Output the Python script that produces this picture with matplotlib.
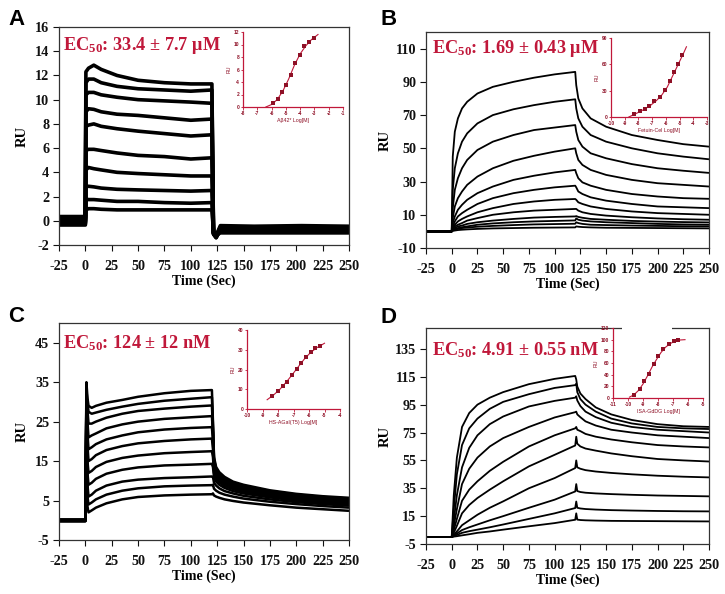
import matplotlib
matplotlib.use('Agg')
import matplotlib.pyplot as plt
from matplotlib.patches import Rectangle

plt.rcParams['font.family'] = ['Liberation Serif', 'DejaVu Serif']
plt.rcParams['font.weight'] = 'bold'
plt.rcParams['mathtext.fontset'] = 'custom'
plt.rcParams['mathtext.rm'] = 'Liberation Serif:bold'
plt.rcParams['mathtext.default'] = 'rm'
plt.rcParams['axes.unicode_minus'] = False

RED = '#C0183A'
DARKRED = '#8E1026'

# ---------------- Panel A (noisy sensorgrams) ----------------
A_BASE = [0.35, 0.28, 0.2, 0.12, 0.04, -0.04, -0.12, -0.2, -0.28, -0.35]
A_T_ASSOC = [0.5, 3, 8, 15, 30, 50, 75, 100, 120]
A_ASSOC = [
    [12.3, 12.6, 12.85, 12.5, 12.0, 11.6, 11.4, 11.3, 11.3],
    [11.4, 11.7, 11.7, 11.4, 11.1, 10.9, 10.8, 10.7, 10.8],
    [10.4, 10.6, 10.6, 10.4, 10.2, 10.0, 9.9, 9.8, 9.7],
    [9.0, 9.25, 9.2, 9.0, 8.8, 8.7, 8.5, 8.3, 8.4],
    [7.8, 7.9, 8.0, 7.8, 7.6, 7.4, 7.2, 7.0, 7.1],
    [5.8, 5.9, 5.9, 5.8, 5.6, 5.4, 5.3, 5.1, 5.2],
    [4.2, 4.4, 4.3, 4.2, 4.0, 3.9, 3.8, 3.7, 3.7],
    [2.8, 2.85, 2.8, 2.7, 2.6, 2.55, 2.5, 2.45, 2.5],
    [1.8, 1.75, 1.75, 1.7, 1.6, 1.6, 1.5, 1.45, 1.5],
    [0.9, 1.0, 1.0, 0.95, 0.9, 0.9, 0.9, 0.9, 0.9],
]
A_T_DISS = [121.5, 124, 128, 160, 205, 250]
A_DISS = [
    [-0.9, -1.2, -0.4, -0.45, -0.4, -0.45],
    [-1.0, -1.3, -0.5, -0.55, -0.5, -0.5],
    [-1.0, -1.3, -0.6, -0.6, -0.6, -0.6],
    [-1.1, -1.35, -0.65, -0.65, -0.65, -0.65],
    [-1.1, -1.4, -0.7, -0.7, -0.7, -0.7],
    [-1.1, -1.4, -0.75, -0.75, -0.75, -0.75],
    [-1.0, -1.3, -0.8, -0.8, -0.8, -0.8],
    [-1.0, -1.3, -0.85, -0.85, -0.85, -0.85],
    [-1.0, -1.2, -0.9, -0.9, -0.9, -0.9],
    [-0.9, -1.2, -1.0, -1.0, -1.0, -1.0],
]

# ---------------- Panel B ----------------
B_BASE = [0.0] * 12
B_T_ASSOC = [1, 3, 6, 10, 15, 25, 40, 60, 80, 100, 120]
B_ASSOC = [
    [45, 60, 68, 74, 78, 83, 87, 90, 92.5, 94.5, 96],
    [25, 38, 47, 54, 59, 65, 70, 73.5, 76, 78, 79.5],
    [14, 25, 32, 38, 43, 49, 54, 58, 61, 62.5, 64],
    [8, 15, 20, 24, 28, 33, 38, 42.5, 45.5, 48, 50],
    [5, 9, 13, 16, 19, 23, 27, 31, 33.5, 35.5, 37],
    [3, 6, 9, 11, 13, 16.5, 20, 23, 25, 26.5, 27.5],
    [2, 4, 6, 7.5, 9, 11.5, 14, 16.5, 18, 19, 19.5],
    [1.5, 3, 4, 5, 6.5, 8, 10, 11.5, 12.5, 13, 13.5],
    [1, 2, 3, 3.5, 4.5, 5.5, 6.5, 7.5, 8.3, 8.7, 9],
    [1, 1.5, 2, 2.5, 3, 4, 4.8, 5.5, 6, 6.3, 6.6],
    [0.5, 1, 1.5, 2, 2.3, 2.8, 3.3, 3.8, 4.2, 4.4, 4.6],
    [0.3, 0.5, 0.8, 1, 1.2, 1.5, 1.8, 2, 2.2, 2.3, 2.4],
]
B_T_DISS = [121, 123, 127, 135, 150, 175, 200, 225, 250]
B_DISS = [
    [88, 80, 74, 68, 63, 58, 55, 52.5, 51],
    [74, 68, 63, 58, 54, 50, 47, 45, 43.4],
    [60, 55, 51, 47, 44, 40.5, 38, 36.5, 35.2],
    [47, 43, 40, 37, 34, 31, 29, 28, 27],
    [35, 32, 29.5, 27.5, 25, 22.5, 21, 20, 19.6],
    [26.5, 24, 22.5, 20.5, 18.5, 16.5, 15, 14.5, 14],
    [19, 17.5, 16.5, 15, 13.5, 12, 11, 10.5, 10],
    [13.5, 12.5, 11.5, 10.5, 9.5, 8.5, 7.8, 7.3, 7],
    [9.2, 8.7, 8.2, 7.5, 7, 6.3, 5.9, 5.6, 5.4],
    [7.8, 7, 6.5, 6, 5.5, 5, 4.5, 4.2, 4],
    [5.5, 5, 4.5, 4, 3.8, 3.5, 3.3, 3.1, 3],
    [3, 2.8, 2.6, 2.4, 2.2, 2.1, 2, 1.9, 1.8],
]

# ---------------- Panel C ----------------
C_BASE = [0.2, 0.15, 0.1, 0.05, 0.0, -0.05, -0.1, -0.15, -0.2, -0.2, -0.25]
C_T_ASSOC = [1, 2, 3, 6, 10, 20, 35, 50, 75, 100, 120]
C_ASSOC = [
    [35, 31, 29, 28.5, 29, 29.8, 30.5, 31.3, 32.2, 32.8, 33],
    [33, 30, 27.5, 27, 27.3, 28, 28.8, 29.5, 30.3, 30.8, 31.2],
    [32, 28, 24.5, 24.5, 25, 26, 27, 27.7, 28.3, 28.8, 29.1],
    [31, 25, 21, 21.5, 22, 23.3, 24.3, 25, 25.7, 26.1, 26.4],
    [30, 22, 18, 18.5, 19.3, 20.5, 21.5, 22.3, 23, 23.4, 23.6],
    [28, 19, 15, 15.5, 16.5, 17.8, 18.8, 19.5, 20.1, 20.5, 20.7],
    [26, 15, 12, 12.5, 13.5, 14.8, 15.8, 16.4, 17, 17.3, 17.5],
    [24, 12, 9, 9.5, 10.5, 11.8, 12.8, 13.4, 13.9, 14.1, 14.3],
    [22, 9, 6, 6.5, 7.5, 8.8, 9.8, 10.3, 10.7, 10.9, 11.1],
    [20, 6, 4, 4.5, 5.3, 6.5, 7.5, 8.1, 8.6, 8.8, 8.9],
    [18, 3.5, 2, 2.5, 3.2, 4.3, 5.3, 5.9, 6.3, 6.5, 6.6],
]
C_T_DISS = [121, 122, 124, 127, 132, 140, 150, 175, 200, 225, 250]
C_DISS = [
    [25, 16, 13.5, 12.2, 11, 9.8, 9, 7.6, 6.7, 6.1, 5.7],
    [24, 15.5, 13, 11.8, 10.6, 9.5, 8.7, 7.4, 6.5, 5.9, 5.5],
    [23, 15, 12.6, 11.4, 10.3, 9.2, 8.4, 7.2, 6.3, 5.7, 5.3],
    [22, 14.5, 12.2, 11, 10, 9, 8.2, 7, 6.1, 5.5, 5.1],
    [20, 14, 11.8, 10.6, 9.6, 8.7, 7.9, 6.8, 5.9, 5.3, 4.9],
    [18, 13, 11.2, 10.1, 9.2, 8.3, 7.6, 6.5, 5.7, 5.1, 4.7],
    [16, 12, 10.5, 9.6, 8.7, 7.9, 7.2, 6.2, 5.4, 4.8, 4.4],
    [13.5, 11, 9.8, 9, 8.2, 7.4, 6.8, 5.8, 5.0, 4.5, 4.1],
    [11, 9.5, 8.8, 8.1, 7.4, 6.8, 6.2, 5.3, 4.6, 4.1, 3.7],
    [9, 8, 7.5, 7, 6.5, 6, 5.5, 4.7, 4.1, 3.6, 3.2],
    [6.8, 6.3, 6, 5.7, 5.3, 4.9, 4.5, 3.8, 3.2, 2.8, 2.4],
]

# ---------------- Panel D ----------------
D_BASE = [0.0] * 10
D_T_ASSOC = [2, 5, 10, 17, 25, 37, 50, 75, 100, 120]
D_ASSOC = [
    [30, 57, 79, 89, 95, 100, 104, 109.7, 113.5, 115.6],
    [20, 45, 66, 78, 85, 92, 97, 102.5, 107, 109],
    [12, 30, 50, 64, 73, 81, 86.5, 93.7, 97.7, 100],
    [8, 20, 38, 49, 57, 65, 71, 79, 85.8, 89.6],
    [5, 13, 26, 34, 40, 47.5, 54, 65, 73, 78],
    [3, 8, 17, 23, 28, 34, 40, 50.7, 59, 65.7],
    [1.5, 4, 8.5, 12, 16, 21, 25.6, 35, 42.3, 49.5],
    [1, 2.5, 5, 7, 9, 12, 15, 21, 26.8, 32.7],
    [0.6, 1.5, 3, 4.2, 5.3, 7, 9, 13, 17, 20.8],
    [0.3, 0.6, 1.2, 2, 3, 4, 5.3, 7.7, 10, 12.4],
]
D_T_DISS = [121, 122, 125, 130, 140, 155, 175, 200, 225, 250]
D_DISS = [
    [113, 108, 103, 99, 93, 88, 84, 81, 79.5, 79],
    [110, 104, 99, 95, 90, 85, 81.5, 79, 78, 77.5],
    [101, 98, 94, 90, 86, 82, 79, 77, 76, 75],
    [90, 88, 86, 83, 80, 77, 75, 73, 72, 71],
    [79, 77, 76, 74, 72, 70, 68, 66, 65, 64.3],
    [72, 67, 65, 63.5, 62, 60, 58, 56, 55, 54.2],
    [55, 50, 49, 48, 47, 46, 45, 44, 43.3, 42.8],
    [38, 33, 32.3, 31.8, 31.3, 30.8, 30.3, 29.8, 29.5, 29.2],
    [25.5, 21, 20.5, 20.1, 19.7, 19.3, 19, 18.7, 18.5, 18.4],
    [17, 12.5, 12.2, 12, 11.8, 11.6, 11.5, 11.4, 11.3, 11.2],
]

# ---------------- Insets (dose response) ----------------
IA_X = [-5.9, -5.55, -5.25, -4.97, -4.67, -4.34, -4.0, -3.73, -3.38, -3.06]
IA_Y = [0.7, 1.3, 2.4, 3.6, 5.1, 7.1, 8.3, 9.7, 10.4, 11.1]
IA_FX = [-6.4, -6.0, -5.6, -5.2, -4.8, -4.4, -4.0, -3.6, -3.2, -2.75]
IA_FY = [0.0, 0.4, 1.2, 2.6, 4.5, 6.7, 8.5, 9.8, 10.8, 11.6]

IB_X = [-8.32, -7.9, -7.55, -7.2, -6.83, -6.4, -6.07, -5.68, -5.4, -5.08, -4.8]
IB_Y = [3.8, 6.9, 9.6, 13, 18, 23, 30.6, 41, 51.7, 60.5, 71]
IB_FX = [-8.7, -8.3, -7.9, -7.5, -7.1, -6.7, -6.3, -5.9, -5.5, -5.1, -4.7, -4.5]
IB_FY = [0, 3, 6, 9.5, 13.5, 18.5, 25, 34, 47, 60, 73, 80]

IC_X = [-8.4, -7.97, -7.7, -7.43, -7.1, -6.8, -6.5, -6.2, -5.9, -5.6, -5.3]
IC_Y = [6.4, 8.9, 11.4, 13.9, 17.3, 20.3, 23.2, 26.5, 29, 30.8, 32]
IC_FX = [-8.7, -8.3, -7.9, -7.5, -7.1, -6.7, -6.3, -5.9, -5.5, -5.0]
IC_FY = [4.7, 7, 9.8, 13.3, 17.2, 21.3, 25.3, 28.6, 31.0, 33.3]

ID_X = [-9.63, -9.19, -8.92, -8.63, -8.3, -7.97, -7.64, -7.26, -6.93, -6.65]
ID_Y = [5.7, 16, 28.6, 41.7, 58.9, 71.4, 84, 92.6, 97, 98.9]
ID_FX = [-9.9, -9.6, -9.3, -9.0, -8.7, -8.4, -8.1, -7.8, -7.5, -7.2, -6.9, -6.5, -6.2]
ID_FY = [1.5, 5.5, 13, 24, 38, 53, 66, 78, 87, 93, 97, 99.5, 100]

X_TICKS = list(range(-25, 251, 25))

fig = plt.figure(figsize=(7.25, 5.94), dpi=100)
W, H = 725.0, 594.0


def px_rect(l, t, r, b):
    return [l / W, 1 - b / H, (r - l) / W, (b - t) / H]


def sensor(ax, base, t_assoc, assoc, t_diss, diss, lw):
    for b, a, d in zip(base, assoc, diss):
        t = [-25, 0] + t_assoc + t_diss
        y = [b, b] + a + d
        ax.plot(t, y, color='black', lw=lw, solid_joinstyle='round', solid_capstyle='butt')


def style_main(ax, ylim, yticks, ec, ec_pos, rux):
    ax.set_xlim(-25, 250)
    ax.set_xticks(X_TICKS)
    ax.set_ylim(*ylim)
    ax.set_yticks(yticks)
    ax.tick_params(direction='out', length=4, width=0.8, labelsize=10.2, colors='#111111')
    ax.tick_params(axis='x', pad=7)
    ax.tick_params(axis='y', pad=3)
    for s in ax.spines.values():
        s.set_linewidth(0.9)
        s.set_color('#333333')
    ax.set_xlabel('Time (Sec)', fontsize=10, fontweight='bold')
    ax.xaxis.set_label_coords(0.5, -0.135)
    ax.set_ylabel('RU', fontsize=10.5, fontweight='bold')
    ax.yaxis.set_label_coords(rux, 0.5)
    ax.yaxis.label.set_va('center')
    ax.text(ec_pos[0], ec_pos[1], ec, transform=ax.transAxes, color=RED,
            fontsize=13.2, fontweight='bold', va='baseline', ha='left')


def inset(rect, xs, ys, fx, fy, xlim, xticks, ylim, yticks, xlabel):
    ax = fig.add_axes(rect)
    ax.patch.set_alpha(0)
    ax.plot(fx, fy, color=RED, lw=0.8)
    ax.plot(xs, ys, 's', color=DARKRED, ms=2.2, mew=0)
    ax.set_xlim(*xlim)
    ax.set_xticks(xticks)
    ax.set_ylim(*ylim)
    ax.set_yticks(yticks)
    for s in ['top', 'right']:
        ax.spines[s].set_visible(False)
    for s in ['left', 'bottom']:
        ax.spines[s].set_color(RED)
        ax.spines[s].set_linewidth(0.9)
    ax.tick_params(colors=RED, labelsize=3.5, length=1.8, width=0.6, pad=1)
    for lab in ax.get_xticklabels() + ax.get_yticklabels():
        lab.set_family('Liberation Sans')
        lab.set_color(DARKRED)
    ax.set_xlabel(xlabel, fontsize=3.8, color=DARKRED, labelpad=1.5, family='Liberation Sans')
    ax.set_ylabel('RU', fontsize=3.8, color=DARKRED, labelpad=1.5, family='Liberation Sans')
    return ax


# Panel A
axA = fig.add_axes(px_rect(59, 27, 349, 245))
sensor(axA, A_BASE, A_T_ASSOC, A_ASSOC, A_T_DISS, A_DISS, 2.6)
style_main(axA, (-2, 16), list(range(-2, 17, 2)), 'EC$_{50}$: 33.4 ± 7.7 μM', (0.014, 0.894), -0.128)

# Panel B
axB = fig.add_axes(px_rect(426, 32, 709, 248))
sensor(axB, B_BASE, B_T_ASSOC, B_ASSOC, B_T_DISS, B_DISS, 1.3)
style_main(axB, (-10, 120), list(range(-10, 111, 20)), 'EC$_{50}$: 1.69 ± 0.43 μM', (0.021, 0.903), -0.145)

# Panel C
axC = fig.add_axes(px_rect(59, 323, 349, 540))
sensor(axC, C_BASE, C_T_ASSOC, C_ASSOC, C_T_DISS, C_DISS, 1.8)
style_main(axC, (-5, 50), list(range(-5, 46, 10)), 'EC$_{50}$: 124 ± 12 nM', (0.014, 0.885), -0.128)

# Panel D
axD = fig.add_axes(px_rect(426, 328, 709, 544))
sensor(axD, D_BASE, D_T_ASSOC, D_ASSOC, D_T_DISS, D_DISS, 1.3)
style_main(axD, (-5, 150), list(range(-5, 136, 20)), 'EC$_{50}$: 4.91 ± 0.55 nM', (0.021, 0.875), -0.145)

# white patch hiding part of panel D top spine (behind inset image)
fig.add_artist(Rectangle((622 / W, 1 - 331 / H), 50 / W, 6 / H, transform=fig.transFigure,
                         facecolor='white', edgecolor='none', zorder=5))

# Insets
inset(px_rect(243, 32, 343, 107), IA_X, IA_Y, IA_FX, IA_FY, (-8, -1), list(range(-8, 0)),
      (0, 12), list(range(0, 13, 2)), 'Aβ42* Log[M]')
inset(px_rect(611, 38, 707, 117), IB_X, IB_Y, IB_FX, IB_FY, (-10, -3), list(range(-10, -2)),
      (0, 90), [0, 30, 60, 90], 'Fetuin-Cel Log[M]')
inset(px_rect(247, 330, 340, 409), IC_X, IC_Y, IC_FX, IC_FY, (-10, -4), list(range(-10, -3)),
      (0, 40), [0, 10, 20, 30, 40], 'HS-AGal(T5) Log[M]')
inset(px_rect(613, 328, 703, 398), ID_X, ID_Y, ID_FX, ID_FY, (-11, -5), list(range(-11, -4)),
      (0, 120), list(range(0, 121, 20)), 'ISA-GdDG Log[M]')

# Panel letters
for lx, ly, letter in [(8, 25, 'A'), (380, 25, 'B'), (8, 322, 'C'), (380, 323, 'D')]:
    fig.text(lx / W, 1 - ly / H, letter, fontsize=16, fontweight='bold',
             family='Liberation Sans', va='baseline', ha='left')

fig.savefig('out.png', dpi=100, facecolor='white')
